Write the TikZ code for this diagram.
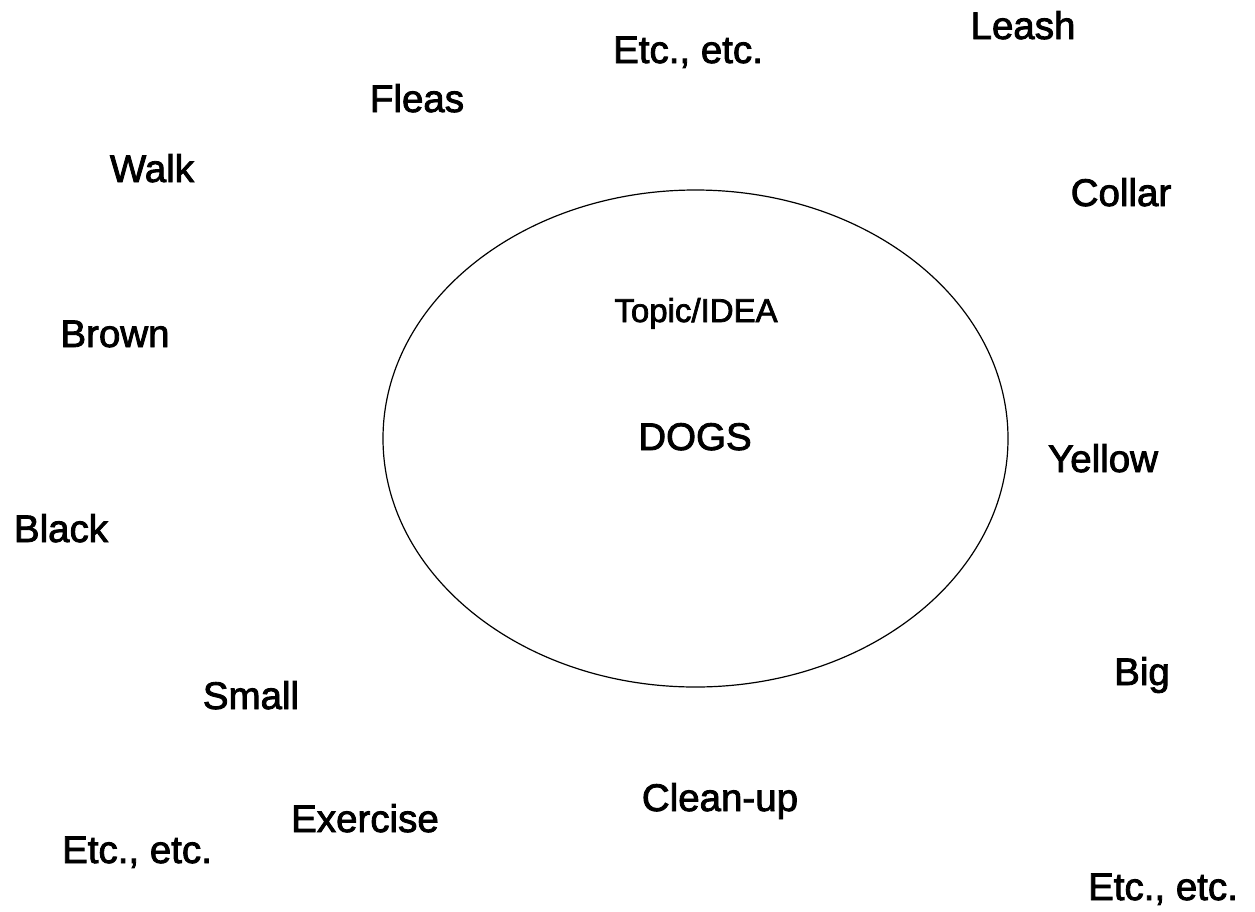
\documentclass[tikz,border=0pt]{standalone}
\usepackage{fontspec}
\setmainfont{Liberation Sans}[FakeBold=2.2]
\usetikzlibrary{positioning}
\usetikzlibrary{shapes.geometric}

\begin{document}
\begin{tikzpicture}[x=1pt, y=-1pt,
	word/.style={font=\fontsize{38.5}{42}\selectfont, anchor=base, inner sep=0pt},
	topicword/.style={font=\fontsize{33}{36}\selectfont, anchor=base, inner sep=0pt}]
	 % Keep the page the size of the picture
	 \useasboundingbox (0,0) rectangle (1255,911);

	 % The topic in the middle
	 \node[draw, ellipse, line width=1.2pt, minimum width=625pt, minimum height=497pt, inner sep=0pt] (topic) at (695.5,438.5) {};
	 \node[topicword] (idea) at (696,322) {Topic/IDEA};
	 \node[word] (dogs) at (695,450) {DOGS};

	 % Words placed round the topic
	 \foreach \name/\txt/\x/\y in {leash/Leash/1023/39, etctop/{Etc., etc.}/688/63,
	   fleas/Fleas/417/112, walk/Walk/152/182, collar/Collar/1121/206,
	   brown/Brown/115/347, yellow/Yellow/1103/472, black/Black/61/542,
	   big/Big/1142/685, small/Small/251/709, cleanup/Clean-up/720/811,
	   exercise/Exercise/365/832, etcleft/{Etc., etc.}/137/863,
	   etcright/{Etc., etc.}/1163/900} {
	   \node[word] (\name) at (\x,\y) {\txt};
	 }
\end{tikzpicture}
\end{document}
